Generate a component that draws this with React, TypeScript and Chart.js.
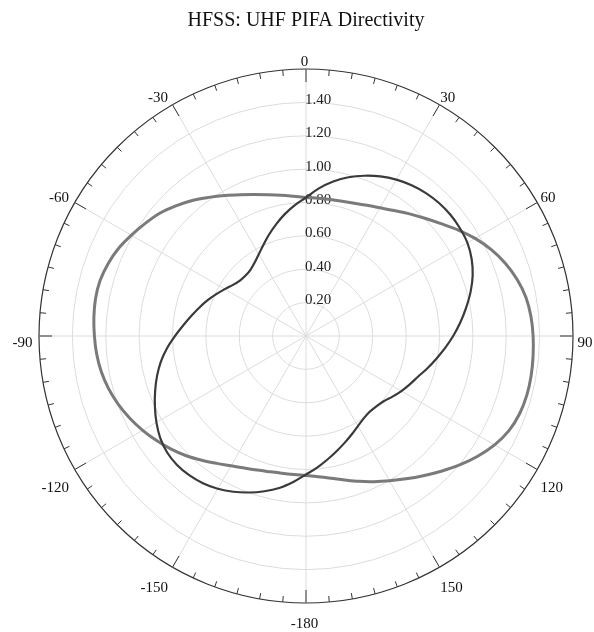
import { useEffect, useRef } from 'react';
import { Chart, registerables } from 'chart.js';

Chart.register(...registerables);

const TITLE = 'HFSS: UHF PIFA Directivity';

// Angle categories (degrees), clockwise from the top
const ANGLE_LABELS = [
  '0', '5', '10', '15', '20', '25', '30', '35', '40', '45', '50', '55',
  '60', '65', '70', '75', '80', '85', '90', '95', '100', '105', '110', '115',
  '120', '125', '130', '135', '140', '145', '150', '155', '160', '165', '170', '175',
  '-180', '-175', '-170', '-165', '-160', '-155', '-150', '-145', '-140', '-135', '-130', '-125',
  '-120', '-115', '-110', '-105', '-100', '-95', '-90', '-85', '-80', '-75', '-70', '-65',
  '-60', '-55', '-50', '-45', '-40', '-35', '-30', '-25', '-20', '-15', '-10', '-5',
];

// Angle labels that are printed on the rim
const SHOWN_ANGLES = ['0', '30', '60', '90', '120', '150', '-180', '-150', '-120', '-90', '-60', '-30'];

// Dark curve (tilted lobes at ~50 and ~-135 deg)
const DARK_SERIES = [
  0.83, 0.888, 0.94, 0.985, 1.022, 1.055, 1.082, 1.103, 1.118, 1.127, 1.13, 1.126,
  1.117, 1.095, 1.063, 1.021, 0.974, 0.928, 0.882, 0.836, 0.792, 0.752, 0.714, 0.686,
  0.66, 0.633, 0.608, 0.596, 0.593, 0.603, 0.623, 0.65, 0.68, 0.713, 0.75, 0.79,
  0.83, 0.878, 0.925, 0.963, 0.998, 1.03, 1.057, 1.077, 1.089, 1.093, 1.086, 1.066,
  1.035, 0.999, 0.962, 0.924, 0.883, 0.836, 0.785, 0.738, 0.697, 0.661, 0.627, 0.593,
  0.562, 0.534, 0.517, 0.512, 0.518, 0.537, 0.566, 0.603, 0.647, 0.693, 0.74, 0.786,
];

// Grey curve (broad lobes at ~+100 and ~-80 deg)
const GREY_SERIES = [
  0.83, 0.829, 0.831, 0.836, 0.847, 0.864, 0.887, 0.918, 0.957, 1.0, 1.05, 1.11,
  1.17, 1.225, 1.272, 1.31, 1.338, 1.353, 1.361, 1.366, 1.37, 1.37, 1.362, 1.342,
  1.305, 1.256, 1.202, 1.146, 1.093, 1.045, 1.002, 0.963, 0.927, 0.893, 0.865, 0.846,
  0.836, 0.833, 0.835, 0.842, 0.855, 0.873, 0.898, 0.932, 0.972, 1.015, 1.055, 1.093,
  1.13, 1.165, 1.197, 1.224, 1.245, 1.259, 1.268, 1.276, 1.281, 1.278, 1.263, 1.24,
  1.208, 1.176, 1.144, 1.103, 1.06, 1.014, 0.972, 0.934, 0.902, 0.876, 0.856, 0.84,
];

const R_MAX = 1.6;
const R_STEP = 0.2;

const SERIF = '"Liberation Serif", "Times New Roman", Times, serif';

const polarDecor = {
  id: 'polarDecor',
  beforeDatasetsDraw(chart: any) {
    const s: any = chart.scales.r;
    const ctx: CanvasRenderingContext2D = chart.ctx;
    const R = s.drawingArea;
    ctx.save();

    // radial tick labels, left-aligned on the vertical axis
    ctx.font = `15px ${SERIF}`;
    ctx.fillStyle = '#222';
    ctx.textAlign = 'left';
    ctx.textBaseline = 'alphabetic';
    s.ticks.forEach((t: any) => {
      if (t.value <= 1e-9 || t.value >= R_MAX - 1e-9) return;
      const d = s.getDistanceFromCenterForValue(t.value);
      ctx.fillText(t.label, s.xCenter - 1, s.yCenter - d + 1.5);
    });

    // rim tick marks
    ctx.strokeStyle = '#333';
    ctx.lineWidth = 1;
    const n = chart.data.labels.length;
    for (let i = 0; i < n; i++) {
      const major = SHOWN_ANGLES.includes(String(chart.data.labels[i]));
      const len = major ? 13 : 6;
      const a = s.getPointPosition(i, R);
      const b = s.getPointPosition(i, R - len);
      ctx.beginPath();
      ctx.moveTo(a.x, a.y);
      ctx.lineTo(b.x, b.y);
      ctx.stroke();
    }

    // angle labels outside the rim
    ctx.fillStyle = '#111';
    for (let i = 0; i < n; i++) {
      const lab = String(chart.data.labels[i]);
      if (!SHOWN_ANGLES.includes(lab)) continue;
      const ang = s.getIndexAngle(i);
      const sn = Math.sin(ang);
      const cs = Math.cos(ang);
      const p = s.getPointPosition(i, R);
      let x = p.x;
      if (sn > 0.1) {
        ctx.textAlign = 'left';
        x = p.x + 5 * sn * sn - 0.5;
      } else if (sn < -0.1) {
        ctx.textAlign = 'right';
        x = p.x - 4 - 2.5 * sn * sn;
      } else {
        ctx.textAlign = 'center';
        x = p.x - 1.5;
      }
      const k = Math.max(-1, Math.min(1, 1.6 * cs));
      const cy = p.y + 6 - 14 * k;
      ctx.fillText(lab, x, cy + 5);
    }
    ctx.restore();
  },
};

export default function App() {
  const ref = useRef<HTMLCanvasElement | null>(null);

  useEffect(() => {
    if (!ref.current) return;
    const chart = new Chart(ref.current, {
      type: 'radar',
      data: {
        labels: ANGLE_LABELS,
        datasets: [
          {
            label: 'Dark',
            data: DARK_SERIES,
            borderColor: '#3a3a3a',
            borderWidth: 2.2,
            fill: false,
            pointRadius: 0,
            pointHitRadius: 0,
            tension: 0.35,
          },
          {
            label: 'Grey',
            data: GREY_SERIES,
            borderColor: '#7a7a7a',
            borderWidth: 3,
            fill: false,
            pointRadius: 0,
            pointHitRadius: 0,
            tension: 0.35,
          },
        ],
      },
      options: {
        animation: false,
        responsive: true,
        maintainAspectRatio: false,
        layout: { padding: { left: 39, right: 21, top: 0, bottom: 29 } },
        plugins: {
          legend: { display: false },
          tooltip: { enabled: false },
          title: {
            display: true,
            text: TITLE,
            color: '#111',
            font: { family: SERIF, size: 20, weight: 'normal' },
            padding: { top: 9, bottom: 36 },
          },
        },
        scales: {
          r: {
            min: 0,
            max: R_MAX,
            ticks: {
              display: false,
              stepSize: R_STEP,
              callback: (v: any) => Number(v).toFixed(2),
            },
            grid: {
              circular: true,
              color: (c: any) => (Math.abs(c.tick.value - R_MAX) < 1e-6 ? '#333' : '#dcdcdc'),
              lineWidth: (c: any) => (Math.abs(c.tick.value - R_MAX) < 1e-6 ? 1.2 : 1),
            },
            angleLines: {
              display: true,
              color: '#dcdcdc',
              lineWidth: (c: any) => (SHOWN_ANGLES.includes(ANGLE_LABELS[c.index]) ? 1 : 0),
            },
            pointLabels: { display: false },
          },
        },
      } as any,
      plugins: [polarDecor],
    });
    return () => chart.destroy();
  }, []);

  return (
    <div style={{ position: 'absolute', left: 0, top: 0, width: 594, height: 632 }}>
      <canvas ref={ref} />
    </div>
  );
}
